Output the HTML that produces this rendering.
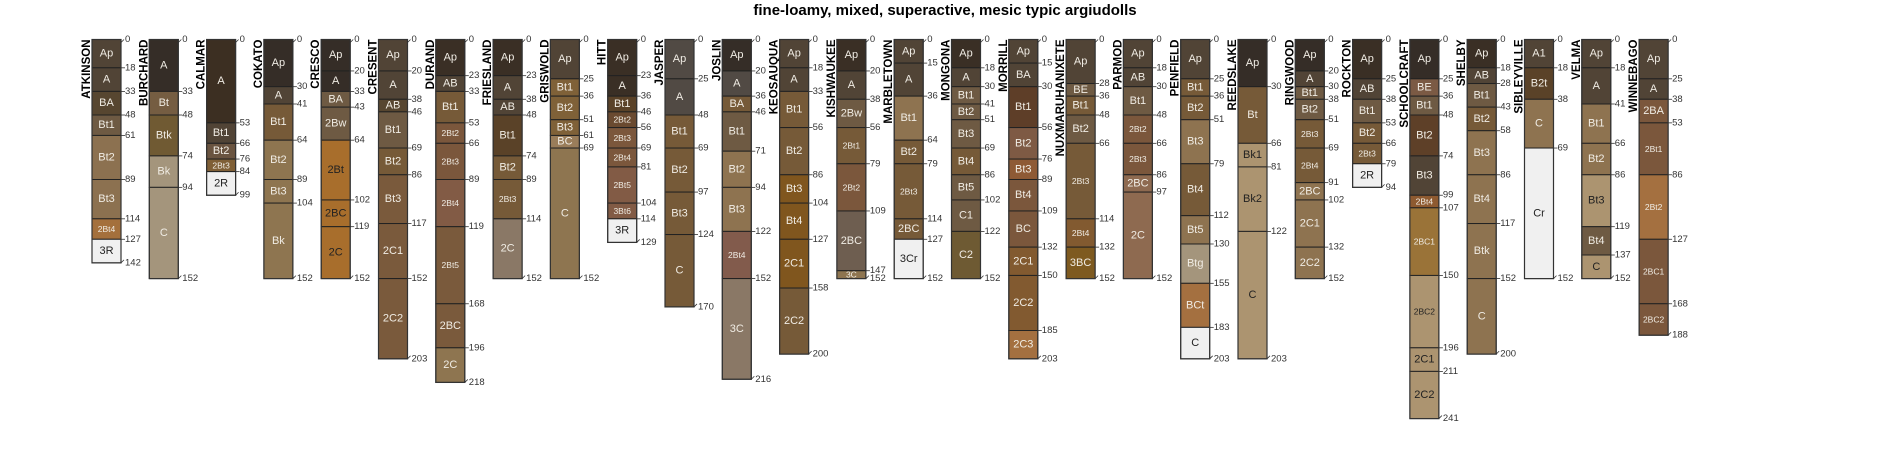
<!DOCTYPE html>
<html><head><meta charset="utf-8"><style>
html,body{margin:0;padding:0;background:#fff;}
svg{display:block;font-family:"Liberation Sans",sans-serif;}
</style></head><body>
<svg id="chart" width="1900" height="450" viewBox="0 0 1900 450" xmlns="http://www.w3.org/2000/svg">
<text x="945" y="15" text-anchor="middle" font-size="15" font-weight="bold" fill="#000">fine-loamy, mixed, superactive, mesic typic argiudolls</text>
</svg>
<script>
const profileNames = ["ATKINSON","BURCHARD","CALMAR","COKATO","CRESCO","CRESENT","DURAND","FRIESLAND","GRISWOLD","HITT","JASPER","JOSLIN","KEOSAUQUA","KISHWAUKEE","MARBLETOWN","MONGONA","MORRILL","NUXMARUHANIXETE","PARMOD","PENFIELD","REEDSLAKE","RINGWOOD","ROCKTON","SCHOOLCRAFT","SHELBY","SIBLEYVILLE","VELMA","WINNEBAGO"];
const horizonDepths = [
[0,18,33,48,61,89,114,127,142],
[0,33,48,74,94,152],
[0,53,66,76,84,99],
[0,30,41,64,89,104,152],
[0,20,33,43,64,102,119,152],
[0,20,38,46,69,86,117,152,203],
[0,23,33,53,66,89,119,168,196,218],
[0,23,38,48,74,89,114,152],
[0,25,36,51,61,69,152],
[0,23,36,46,56,69,81,104,114,129],
[0,25,48,69,97,124,170],
[0,20,36,46,71,94,122,152,216],
[0,18,33,56,86,104,127,158,200],
[0,20,38,56,79,109,147,152],
[0,15,36,64,79,114,127,152],
[0,18,30,41,51,69,86,102,122,152],
[0,15,30,56,76,89,109,132,150,185,203],
[0,28,36,48,66,114,132,152],
[0,18,30,48,66,86,97,152],
[0,25,36,51,79,112,130,155,183,203],
[0,30,66,81,122,203],
[0,20,30,38,51,69,91,102,132,152],
[0,25,38,53,66,79,94],
[0,25,36,48,74,99,107,150,196,211,241],
[0,18,28,43,58,86,117,152,200],
[0,18,38,69,152],
[0,18,41,66,86,119,137,152],
[0,25,38,53,86,127,168,188]
];
const horizonNames = [
["Ap","A","BA","Bt1","Bt2","Bt3","2Bt4","3R"],
["A","Bt","Btk","Bk","C"],
["A","Bt1","Bt2","2Bt3","2R"],
["Ap","A","Bt1","Bt2","Bt3","Bk"],
["Ap","A","BA","2Bw","2Bt","2BC","2C"],
["Ap","A","AB","Bt1","Bt2","Bt3","2C1","2C2"],
["Ap","AB","Bt1","2Bt2","2Bt3","2Bt4","2Bt5","2BC","2C"],
["Ap","A","AB","Bt1","Bt2","2Bt3","2C"],
["Ap","Bt1","Bt2","Bt3","BC","C"],
["Ap","A","Bt1","2Bt2","2Bt3","2Bt4","2Bt5","3Bt6","3R"],
["Ap","A","Bt1","Bt2","Bt3","C"],
["Ap","A","BA","Bt1","Bt2","Bt3","2Bt4","3C"],
["Ap","A","Bt1","Bt2","Bt3","Bt4","2C1","2C2"],
["Ap","A","2Bw","2Bt1","2Bt2","2BC","3C"],
["Ap","A","Bt1","Bt2","2Bt3","2BC","3Cr"],
["Ap","A","Bt1","Bt2","Bt3","Bt4","Bt5","C1","C2"],
["Ap","BA","Bt1","Bt2","Bt3","Bt4","BC","2C1","2C2","2C3"],
["Ap","BE","Bt1","Bt2","2Bt3","2Bt4","3BC"],
["Ap","AB","Bt1","2Bt2","2Bt3","2BC","2C"],
["Ap","Bt1","Bt2","Bt3","Bt4","Bt5","Btg","BCt","C"],
["Ap","Bt","Bk1","Bk2","C"],
["Ap","A","Bt1","Bt2","2Bt3","2Bt4","2BC","2C1","2C2"],
["Ap","AB","Bt1","Bt2","2Bt3","2R"],
["Ap","BE","Bt1","Bt2","Bt3","2Bt4","2BC1","2BC2","2C1","2C2"],
["Ap","AB","Bt1","Bt2","Bt3","Bt4","Btk","C"],
["A1","B2t","C","Cr"],
["Ap","A","Bt1","Bt2","Bt3","Bt4","C"],
["Ap","A","2BA","2Bt1","2Bt2","2BC1","2BC2"]
];
const horizonColors = [
["#514436","#514436","#574630","#6e5a43","#8c7150","#8c7150","#a4703c","#f0f0f0"],
["#352d27","#755d42","#705a33","#a4957c","#a4957c"],
["#3c2f22","#514436","#6a5440","#7f5f36","#f0f0f0"],
["#352d27","#514436","#765a38","#8e7550","#8e7550","#8e7550"],
["#352d27","#352d27","#6e5a43","#6e5a43","#a86e2c","#a86e2c","#a86e2c"],
["#514436","#514436","#574630","#6e5a43","#765a38","#7a5a3c","#7a5a3c","#7a5a3c"],
["#3a2f25","#514436","#765a38","#7b573c","#7b573c","#825b45","#7a5a3c","#7a5a3c","#8e7550"],
["#3a2f25","#514436","#514436","#5a4228","#765a38","#765a38","#8a7866"],
["#514436","#7f6138","#7f6138","#7f6138","#9a7d5a","#8e7550"],
["#3a2f25","#3a2f25","#5a4228","#6a4a30","#7b573c","#7b573c","#825b45","#825b45","#f0f0f0"],
["#514a44","#514a44","#765a38","#765a38","#765a38","#765a38"],
["#352d27","#514a44","#765a38","#6e5a43","#8e7350","#8e7350","#825b4c","#8a7866"],
["#514436","#514436","#765a38","#765a38","#80561e","#80561e","#80561e","#765a38"],
["#3a2f25","#514436","#6e5a43","#765a38","#7b573c","#6e5e50","#8e7550"],
["#514436","#514436","#8e7350","#765a38","#765a38","#765a38","#f0f0f0"],
["#3a2f25","#514436","#6e5a43","#6e5a43","#6e5a43","#765a38","#6e5a43","#6e5a43","#6e5a33"],
["#514436","#514436","#5e3e28","#7e5a44","#8e5a35","#7b573c","#7b573c","#825a30","#825a30","#a47040"],
["#514436","#6e5a43","#765a38","#6e5a43","#765a38","#825a30","#7e5a20"],
["#514436","#514436","#6e5a43","#7b573c","#7b573c","#8e6a50","#8e6a50"],
["#514436","#765a38","#765a38","#8e7350","#765a38","#8e7350","#a4957c","#a47040","#f0f0f0"],
["#352d27","#765a38","#ac9470","#ac9470","#ac9470"],
["#352d27","#514436","#6e5a43","#6e5a43","#765a38","#765a38","#8e7350","#8e7350","#8e7350"],
["#3a2f25","#514436","#6e5a43","#765a38","#765a38","#f0f0f0"],
["#352d27","#7b5a44","#6e5a43","#5e4028","#514436","#8e5a30","#9a7338","#ac9470","#ac9470","#ac9470"],
["#3a2f25","#514436","#6e5a43","#765a38","#8e7350","#8e7350","#8e7350","#8e7350"],
["#514436","#5a4228","#8e7350","#f0f0f0"],
["#514436","#514436","#8e7350","#8e7350","#ac9470","#6e5a43","#ac9470"],
["#514436","#514436","#7b573c","#7b573c","#a47040","#7b573c","#7b573c"]
];
const darkLabelColors = ["#f0f0f0","#a86e2c","#ac9470"];

const svg = document.getElementById('chart');
const NS = "http://www.w3.org/2000/svg";
const x0 = 92, xStep = 57.3, colW = 29, yTop = 39.5, yScale = 1.573;
function xPos(i){ return x0 + i * xStep; }
function yPos(d){ return yTop + d * yScale; }
function mk(tag, attrs){ const e = document.createElementNS(NS, tag); for (const k in attrs) e.setAttribute(k, attrs[k]); return e; }

profileNames.forEach((name, i) => {
  const g = mk('g', {});
  
  
  svg.appendChild(g);
  const x = xPos(i);
  const depths = horizonDepths[i];
  const label = mk('text', {transform: `translate(${x - 2},${yTop}) rotate(-90)`, 'text-anchor': 'end', 'font-size': 11.5, 'font-weight': 'bold', fill: '#000'});
  
  
  label.textContent = name;
  g.appendChild(label);
  horizonNames[i].forEach((h, j) => {
    const y1 = yPos(depths[j]), y2 = yPos(depths[j + 1]);
    const fill = horizonColors[i][j];
    const r = mk('rect', {x: x, y: y1, width: colW, height: y2 - y1, fill: fill, stroke: '#222', 'stroke-width': 1});
    
    
    g.appendChild(r);
    const small = h.length >= 4 || (y2 - y1) < 12;
    const t = mk('text', {x: x + colW / 2, y: (y1 + y2) / 2, 'text-anchor': 'middle', 'dominant-baseline': 'central', 'font-size': small ? 8.5 : 11, fill: darkLabelColors.includes(fill) ? '#222' : '#f0ece4'});
    
    
    t.textContent = h;
    g.appendChild(t);
  });
  const outline = mk('rect', {x: x, y: yPos(depths[0]), width: colW, height: yPos(depths[depths.length - 1]) - yPos(depths[0]), fill: 'none', stroke: '#333', 'stroke-width': 1.2});
  
  
  g.appendChild(outline);
  depths.forEach((d, k) => {
    const y = yPos(d);
    const last = k === 0 || k === depths.length - 1;
    const tk = last ? mk('line', {x1: x + colW, y1: y + (k === 0 ? 3 : 0), x2: x + colW + 3, y2: y + (k === 0 ? 0 : -3), stroke: '#333', 'stroke-width': 0.8})
                    : mk('line', {x1: x + colW, y1: y, x2: x + colW + 4, y2: y, stroke: '#333', 'stroke-width': 0.8});
    
    
    g.appendChild(tk);
    const dt = mk('text', {x: x + colW + 4, y: y, 'dominant-baseline': 'central', 'font-size': 9.5, fill: '#333'});
    
    
    dt.textContent = d;
    g.appendChild(dt);
  });
});
</script>
</body></html>
